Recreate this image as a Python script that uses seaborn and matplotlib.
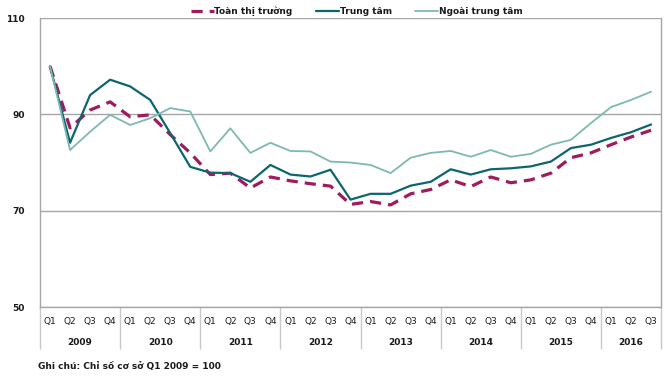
import numpy as np
import pandas as pd
import matplotlib
matplotlib.use("Agg")
import matplotlib.pyplot as plt
import seaborn as sns

# data (index, Q1 2009 = 100)
years = ["2009", "2010", "2011", "2012", "2013", "2014", "2015", "2016"]
quarters = ["Q1", "Q2", "Q3", "Q4"] * 7 + ["Q1", "Q2", "Q3"]
toan_thi_truong = [100, 87.2, 90.9, 92.6, 89.5, 89.9, 85.8, 82.0,
                   77.5, 77.8, 74.7, 77.0, 76.2, 75.6, 75.1, 71.3,
                   71.9, 71.2, 73.5, 74.4, 76.4, 75.0, 77.0, 75.8,
                   76.4, 77.8, 81.0, 82.0, 83.7, 85.3, 86.7]
trung_tam = [100, 84.1, 94.0, 97.2, 95.8, 93.0, 86.1, 79.1,
             77.9, 77.8, 76.0, 79.5, 77.5, 77.1, 78.5, 72.3,
             73.5, 73.5, 75.2, 76.0, 78.6, 77.5, 78.6, 78.8,
             79.2, 80.2, 83.0, 83.7, 85.1, 86.3, 87.9]
ngoai_trung_tam = [100, 82.6, 86.4, 89.9, 87.8, 89.2, 91.3, 90.6,
                   82.3, 87.1, 82.0, 84.1, 82.4, 82.3, 80.2, 80.0,
                   79.5, 77.8, 81.0, 82.0, 82.4, 81.2, 82.6, 81.2,
                   81.8, 83.7, 84.7, 88.2, 91.5, 93.0, 94.7]
series_names = ["Toàn thị trường", "Trung tâm", "Ngoài trung tâm"]

n = len(quarters)
x = np.arange(n)
df = pd.DataFrame({
    "x": np.tile(x, 3),
    "value": toan_thi_truong + trung_tam + ngoai_trung_tam,
    "series": np.repeat(series_names, n),
})

sns.set_style("white")
plt.rcParams["font.family"] = ["DejaVu Sans"]

fig = plt.figure(figsize=(6.7, 3.76), dpi=100)
ax = fig.add_axes([0.0597, 0.1835, 0.927, 0.7685])

colors = {"Toàn thị trường": "#A01A5E", "Trung tâm": "#0B6670",
          "Ngoài trung tâm": "#7DB9B0"}
dashes = {"Toàn thị trường": (3.5, 2.2), "Trung tâm": "", "Ngoài trung tâm": ""}
widths = {"Toàn thị trường": 2.3, "Trung tâm": 1.6, "Ngoài trung tâm": 1.3}

for name in series_names:
    sub = df[df["series"] == name]
    sns.lineplot(data=sub, x="x", y="value", ax=ax, color=colors[name],
                 linewidth=widths[name], label=name, zorder=3,
                 dashes=False)
    if dashes[name]:
        ax.lines[-1].set_dashes(dashes[name])

grid_c = "#A6A6A6"
ax.set_ylim(50, 110)
ax.set_xlim(-0.5, n - 0.5)
ax.set_yticks([50, 70, 90, 110])
ax.set_yticklabels(["50", "70", "90", "110"], fontsize=6.5, fontweight="bold",
                   color="#1a1a1a")
ax.yaxis.grid(True, color=grid_c, linewidth=1)
ax.tick_params(axis="y", length=4, color=grid_c, pad=7)
for s in ["left", "right", "bottom"]:
    ax.spines[s].set_color(grid_c)
    ax.spines[s].set_linewidth(1)
ax.spines["top"].set_visible(False)
ax.set_xlabel("")
ax.set_ylabel("")

# quarter level
ax.set_xticks(np.arange(-0.5, n, 1.0))
ax.set_xticklabels([])
ax.set_xticks(x, minor=True)
ax.set_xticklabels(quarters, minor=True, fontsize=6.5, color="#1a1a1a")
ax.tick_params(axis="x", which="major", length=15, color="#C8C8C8", width=1)
ax.tick_params(axis="x", which="minor", length=0, pad=7)

# year level
year_bounds = [-0.5] + [4 * i + 3.5 for i in range(7)] + [n - 0.5]
year_centers = [(year_bounds[i] + year_bounds[i + 1]) / 2 for i in range(len(years))]
sec = ax.secondary_xaxis("bottom")
sec.set_xticks(year_bounds)
sec.set_xticklabels([])
sec.set_xticks(year_centers, minor=True)
sec.set_xticklabels(years, minor=True, fontsize=6.5, fontweight="bold",
                    color="#1a1a1a")
sec.tick_params(axis="x", which="major", length=30, color="#C8C8C8", width=1)
sec.tick_params(axis="x", which="minor", length=0, pad=22)
sec.spines["bottom"].set_visible(False)

leg = ax.legend(loc="lower center", bbox_to_anchor=(0.51, 1.005), ncol=3,
                frameon=False, fontsize=6.5, handlelength=2.5,
                handletextpad=0.1, columnspacing=2.6, borderaxespad=0,
                borderpad=0.1)
for t in leg.get_texts():
    t.set_fontweight("bold")
    t.set_color("#1a1a1a")

fig.text(0.057, 0.012, "Ghi chú: Chỉ số cơ sở Q1 2009 = 100", fontsize=6.5,
         fontweight="bold", color="#1a1a1a", va="bottom")

fig.savefig("out.png", dpi=100)
